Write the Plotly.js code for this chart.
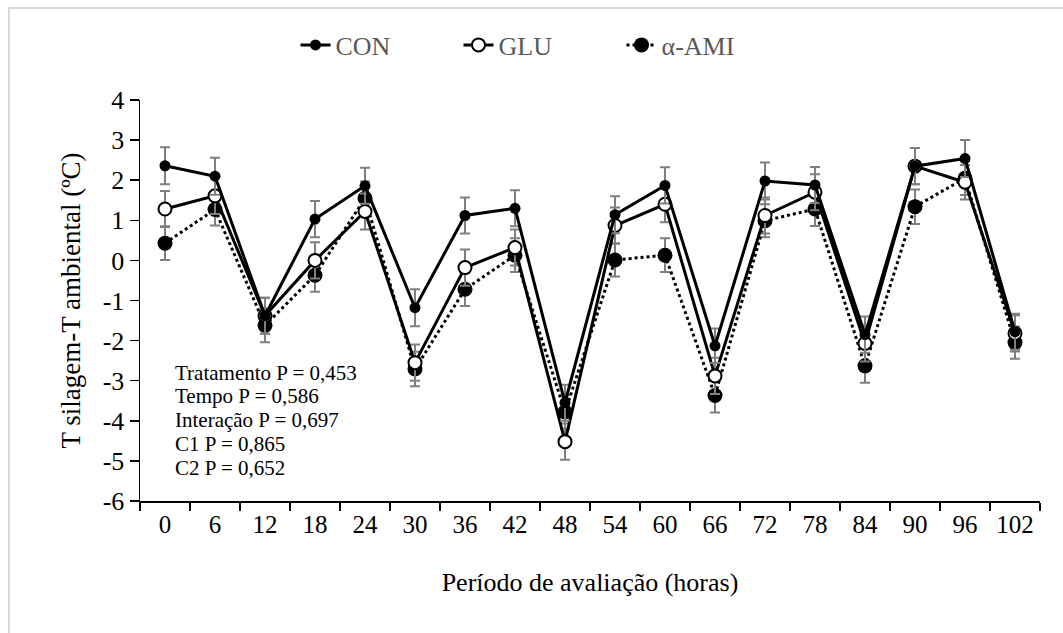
<!DOCTYPE html>
<html>
<head>
<meta charset="utf-8">
<script src="https://cdn.plot.ly/plotly-3.0.1.min.js"></script>
<style>
html,body{margin:0;padding:0;background:#fff;}
#wrap{position:relative;width:1063px;height:633px;overflow:hidden;}
#chart{width:1063px;height:633px;}
#frame{position:absolute;left:8px;top:7px;width:1100px;height:700px;border-top:2px solid #d9d9d9;border-left:2px solid #d9d9d9;pointer-events:none;}
</style>
</head>
<body>
<div id="wrap"><div id="chart"></div><div id="frame"></div></div>
<script>
const periods = ['0','6','12','18','24','30','36','42','48','54','60','66','72','78','84','90','96','102'];
const conValues = [2.36, 2.10, -1.38, 1.03, 1.86, -1.18, 1.12, 1.30, -3.55, 1.14, 1.87, -2.13, 1.98, 1.88, -1.85, 2.35, 2.54, -1.78];
const gluValues = [1.28, 1.61, -1.38, 0.00, 1.22, -2.55, -0.18, 0.32, -4.52, 0.87, 1.40, -2.88, 1.12, 1.70, -2.07, 2.35, 1.95, -1.82];
const amiValues = [0.43, 1.27, -1.62, -0.37, 1.55, -2.71, -0.72, 0.13, -3.78, 0.01, 0.13, -3.37, 0.99, 1.28, -2.63, 1.34, 2.05, -2.05];
const conErr = [0.46, 0.46, 0.45, 0.45, 0.45, 0.46, 0.45, 0.45, 0.45, 0.46, 0.45, 0.43, 0.46, 0.45, 0.45, 0.45, 0.46, 0.45];
const gluErr = [0.45, 0.45, 0.45, 0.45, 0.45, 0.45, 0.45, 0.45, 0.45, 0.45, 0.45, 0.45, 0.45, 0.45, 0.45, 0.45, 0.43, 0.45];
const amiErr = [0.42, 0.40, 0.42, 0.41, 0.42, 0.43, 0.42, 0.42, 0.42, 0.41, 0.42, 0.42, 0.41, 0.42, 0.42, 0.43, 0.42, 0.40];
const seriesNames = ['CON', 'GLU', 'α-AMI'];
const yTickVals = [4, 3, 2, 1, 0, -1, -2, -3, -4, -5, -6];
const yTickText = ['4', '3', '2', '1', '0', '-1', '-2', '-3', '-4', '-5', '-6'];
const statsLines = ['Tratamento P = 0,453', 'Tempo P = 0,586', 'Interação P = 0,697', 'C1 P = 0,865', 'C2 P = 0,652'];

const errStyle = (arr) => ({type: 'data', array: arr, visible: true, color: '#7f7f7f', thickness: 2, width: 5});

const traces = [
  {x: periods, y: amiValues, name: seriesNames[2], type: 'scatter', mode: 'lines+markers', legendrank: 3,
   line: {color: '#000', width: 3, dash: 'dot'},
   marker: {color: '#000', size: 15, symbol: 'circle'},
   error_y: errStyle(amiErr)},
  {x: periods, y: gluValues, name: seriesNames[1], type: 'scatter', mode: 'lines+markers', legendrank: 2,
   line: {color: '#000', width: 3},
   marker: {color: '#fff', size: 13, symbol: 'circle', line: {color: '#000', width: 2}},
   error_y: errStyle(gluErr)},
  {x: periods, y: conValues, name: seriesNames[0], type: 'scatter', mode: 'lines+markers', legendrank: 1,
   line: {color: '#000', width: 3},
   marker: {color: '#000', size: 11, symbol: 'circle'},
   error_y: errStyle(conErr)}
];

const font = '"Liberation Serif", "Times New Roman", serif';
const lineStep = 23.75 / 401;
const annotations = statsLines.map((t, i) => ({
  xref: 'paper', yref: 'paper', x: 0.037, y: 0.32 - i * lineStep, xanchor: 'left', yanchor: 'middle',
  text: t, align: 'left', showarrow: false,
  font: {family: font, size: 21, color: '#000'}
}));

const layout = {
  width: 1063, height: 633,
  margin: {l: 140, r: 23, t: 100, b: 132, autoexpand: false},
  paper_bgcolor: '#fff', plot_bgcolor: '#fff',
  font: {family: font, color: '#000'},
  showlegend: true,
  legend: {orientation: 'h', xref: 'container', yref: 'container', x: 0.508, xanchor: 'center',
           y: 1 - 45 / 633, yanchor: 'middle', bgcolor: 'rgba(0,0,0,0)',
           entrywidth: 118, entrywidthmode: 'pixels',
           font: {family: font, size: 26, color: '#595959'}, traceorder: 'normal'},
  xaxis: {
    type: 'category', range: [-0.5, 17.5], tickson: 'boundaries',
    showline: true, linecolor: '#000', linewidth: 1.5, mirror: false,
    ticks: 'outside', ticklen: 8, tickcolor: '#000', tickwidth: 1.5,
    showgrid: false, zeroline: false,
    tickfont: {family: font, size: 25, color: '#000'},
    title: {text: 'Período de avaliação (horas)', font: {family: font, size: 26, color: '#000'}, standoff: 36}
  },
  yaxis: {
    range: [-6, 4], tickmode: 'array', tickvals: yTickVals, ticktext: yTickText,
    showline: true, linecolor: '#000', linewidth: 1.5,
    ticks: 'outside', ticklen: 9, tickcolor: '#000', tickwidth: 1.5,
    showgrid: false, zeroline: false,
    tickfont: {family: font, size: 26, color: '#000'},
    title: {text: 'T silagem-T ambiental (ºC)', font: {family: font, size: 27, color: '#000'}, standoff: 14}
  },
  annotations: annotations
};

Plotly.newPlot('chart', traces, layout, {displayModeBar: false, staticPlot: true});
</script>
</body>
</html>
